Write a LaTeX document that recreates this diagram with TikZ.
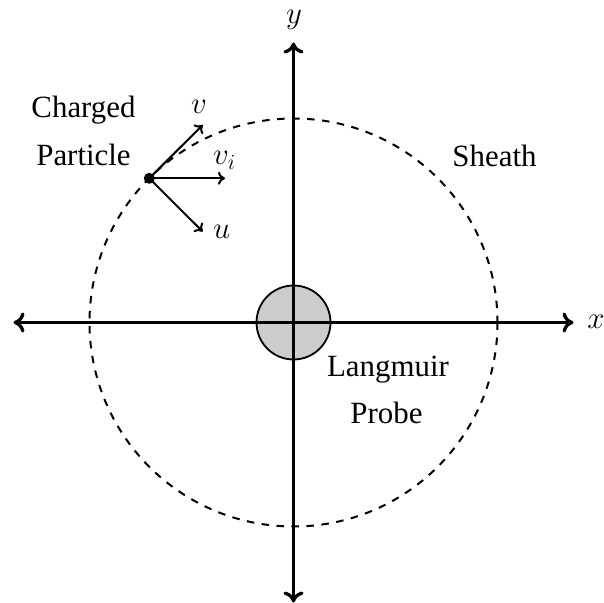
\RequirePackage{fix-cm}
\documentclass[tikz,border=0pt]{standalone}
\usepackage{fontspec}
\setmainfont{Liberation Serif}
\usetikzlibrary{arrows.meta}
\begin{document}
\begin{tikzpicture}[x=1bp,y=-1bp,
  lbl/.style={font=\fontsize{31}{37}\selectfont, inner sep=0pt, anchor=base},
  axisline/.style={line width=3.3bp, -{Computer Modern Rightarrow[length=11bp,width=20bp]}},
  vel/.style={line width=2bp, -{Computer Modern Rightarrow[length=7bp,width=13bp]}},
  sheath/.style={line width=2bp, dash pattern=on 7.5bp off 7.5bp},
  probe/.style={circle, draw, line width=1.8bp, fill=black!20, minimum size=74bp, inner sep=0pt},
  particle/.style={circle, fill=black, inner sep=0pt, minimum size=11bp},
]
\useasboundingbox (0,0) rectangle (604,603);
\coordinate (O) at (293.5,322.5);
\coordinate (xL) at (13.5,322.5);
\coordinate (xR) at (573.5,322.5);
\coordinate (yT) at (293.5,42.5);
\coordinate (yB) at (293.5,602.5);
% sheath
\draw[sheath] (O) circle[radius=204];
% probe
\node[probe] (probe) at (O) {};
% axes
\draw[axisline] (O) -- (xR);
\draw[axisline] (O) -- (xL);
\draw[axisline] (O) -- (yT);
\draw[axisline] (O) -- (yB);
% particle
\node[particle] (P) at (149.3,178.3) {};
\coordinate (vtip) at (202.7,125);
\coordinate (vitip) at (225,178.3);
\coordinate (utip) at (202.7,231.6);
\draw[vel] (P.center) -- (vtip);
\draw[vel] (P.center) -- (vitip);
\draw[vel] (P.center) -- (utip);
% labels
\node[lbl] (chg1) at (83.5,118) {Charged};
\node[lbl] (chg2) at (83.5,166) {Particle};
\node[lbl] (sh) at (494.5,166.5) {Sheath};
\node[lbl] (lg1) at (388,376) {Langmuir};
\node[lbl] (lg2) at (386.5,423) {Probe};
\node[lbl] (vl) at (199,114) {$v$};
\node[lbl, anchor=base west] (vil) at (213,165) {$v_i$};
\node[lbl, anchor=base west] (ul) at (213,238) {$u$};
\node[lbl] (xl) at (596,328) {$x$};
\node[lbl] (yl) at (294,24) {$y$};
\end{tikzpicture}
\end{document}
